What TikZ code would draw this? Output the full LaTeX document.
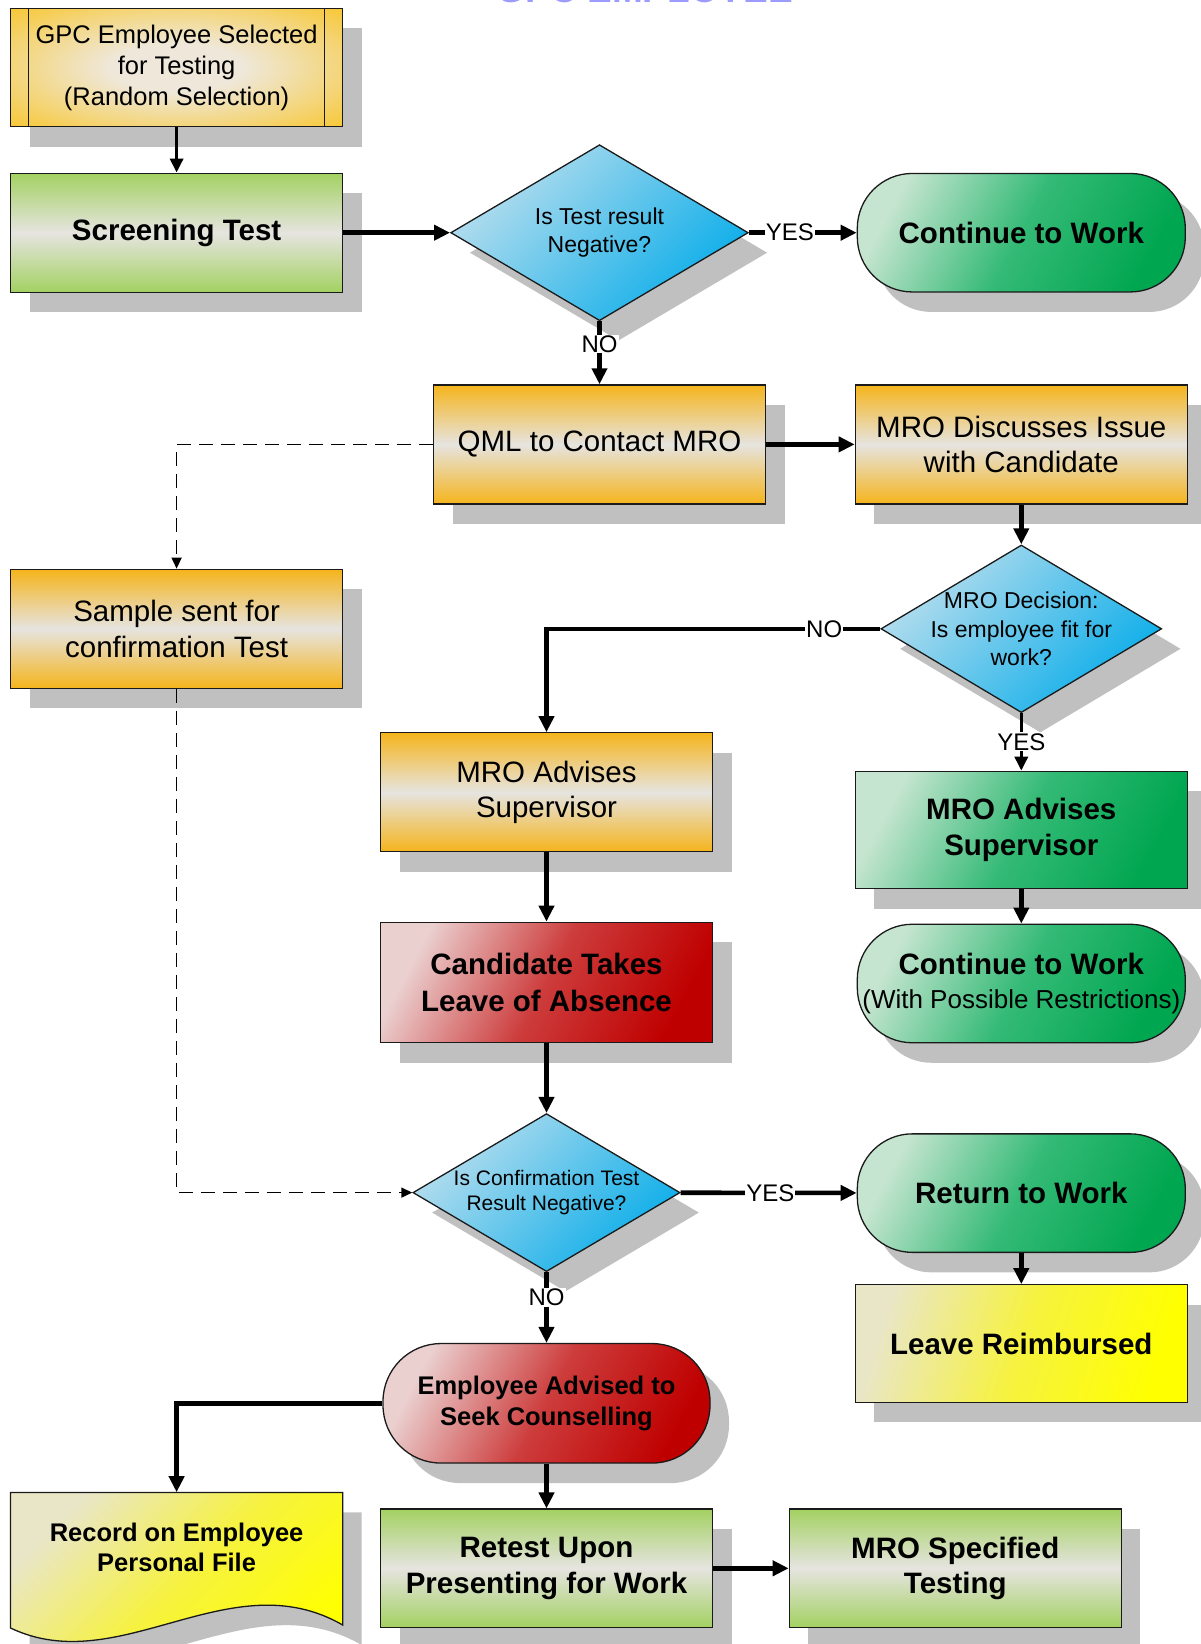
\documentclass[tikz,border=0pt]{standalone}
\usepackage{fontspec}
\setmainfont{Liberation Sans}
\usetikzlibrary{shapes.geometric,arrows.meta,shadows}

\definecolor{orng}{HTML}{F5B41C}
\definecolor{midgray}{HTML}{E6E4E0}
\definecolor{lgreen}{HTML}{A3D162}
\definecolor{gold}{HTML}{F9C218}
\definecolor{goldc}{HTML}{EFE8DA}
\definecolor{bluel}{HTML}{B8DEEE}
\definecolor{blued}{HTML}{0AADE9}
\definecolor{greenl}{HTML}{C6E5D0}
\definecolor{greenm}{HTML}{34BA76}
\definecolor{greend}{HTML}{00A650}
\definecolor{redl}{HTML}{EBD0D0}
\definecolor{redm}{HTML}{CD3C3C}
\definecolor{redd}{HTML}{BF0000}
\definecolor{yell}{HTML}{E9E6C8}
\definecolor{yelm}{HTML}{F6F240}
\definecolor{yeld}{HTML}{FFFF00}
\definecolor{shadegray}{HTML}{C0C0C0}
\definecolor{edge}{HTML}{1A1A1A}
\definecolor{titleblue}{HTML}{9C9CFF}

\pgfdeclareradialshading{gpcglow}{\pgfpoint{0bp}{0bp}}{color(0bp)=(goldc); color(10bp)=(goldc); color(40bp)=(gold); color(50bp)=(gold)}

\newcommand{\fsz}[2]{\fontsize{#1}{#2}\selectfont}

\tikzset{
  shd/.style={drop shadow={shadow xshift=19pt, shadow yshift=-20pt, fill=shadegray, opacity=1}},
  base/.style={draw=edge, line width=1.3pt, inner sep=0pt, align=center, text=black, shd},
  box/.style={base, rectangle, minimum width=332pt, minimum height=119pt},
  orangebox/.style={box, top color=orng, bottom color=orng, middle color=midgray, font=\fsz{29.5}{35.5}},
  limebox/.style={box, top color=lgreen, bottom color=lgreen, middle color=midgray, font=\fsz{29.5}{35.5}\bfseries},
  greenfill/.style={top color=greenl, bottom color=greend, middle color=greenm, shading angle=62},
  redfill/.style={top color=redl, bottom color=redd, middle color=redm, shading angle=62},
  yellowfill/.style={top color=yell, bottom color=yeld, middle color=yelm, shading angle=72},
  term/.style={base, rectangle, rounded corners=55pt, minimum width=328pt, minimum height=118.5pt},
  decision/.style={base, diamond, top color=bluel, bottom color=blued, shading angle=45},
  dtext/.style={align=center, inner sep=0pt, text=black},
  lbl/.style={fill=white, inner sep=1pt, font=\fsz{24}{26}, text=black},
  flow/.style={line width=4.6pt, draw=black, -{Triangle[length=16pt,width=15pt]}},
  flowthin/.style={line width=3.4pt, draw=black, -{Triangle[length=14pt,width=13pt]}},
  dashline/.style={line width=1.6pt, draw=black, dash pattern=on 14pt off 8pt, -{Triangle[length=11pt,width=10pt]}}
}

\begin{document}
\begin{tikzpicture}[x=1pt, y=-1pt]
\useasboundingbox (0,0) rectangle (1200,1644);

% heading, mostly above the sheet edge
\node[font=\fsz{37}{40}\bfseries, text=titleblue, anchor=base, inner sep=0pt] (title) at (645,2.5) {GPC EMPLOYEE};

% ---- left column ----
\node[box, shading=gpcglow, minimum height=118.4pt, font=\fsz{25.5}{31}] (gpc) at (176.6,67.6)
  {GPC Employee Selected\\for Testing\\(Random Selection)};
\draw[edge, line width=1.3pt] ([xshift=18.8pt]gpc.north west) -- ([xshift=18.8pt]gpc.south west);
\draw[edge, line width=1.3pt] ([xshift=-18.8pt]gpc.north east) -- ([xshift=-18.8pt]gpc.south east);

\node[limebox] (scr) at (176.6,232.7) {Screening Test};
\node[orangebox] (sample) at (176.6,628.8) {Sample sent for\\confirmation Test};

% record document with wavy lower edge
\fill[shadegray, shift={(19,20)}] (10.5,1492.4) -- (342.7,1492.4) -- (342.7,1625)
  .. controls (230,1560) and (120,1680) .. (10.5,1628) -- cycle;
\path[draw=edge, line width=1.3pt, top color=yell, bottom color=yeld, middle color=yelm, shading angle=45]
  (10.5,1492.4) -- (342.7,1492.4) -- (342.7,1625)
  .. controls (230,1560) and (120,1680) .. (10.5,1628) -- cycle;
\node[inner sep=0pt, minimum width=332pt, minimum height=110pt, align=center, font=\fsz{25.5}{30.4}\bfseries] (rec) at (176.6,1547.4)
  {Record on Employee\\Personal File};

% ---- middle column ----
\node[decision, minimum width=297.6pt, minimum height=176pt,
  label={[dtext, font=\fsz{23}{28}]center:Is Test result\\Negative?}] (d1) at (599.5,232.7) {};
\node[orangebox] (qml) at (599.5,444.4) {QML to Contact MRO};
\node[orangebox, font=\fsz{29.5}{34.6}] (mroa) at (546.5,792.3) {MRO Advises\\Supervisor};
\node[box, redfill, minimum height=120.5pt, font=\fsz{29.5}{36.7}\bfseries] (cand) at (546.5,982.5)
  {Candidate Takes\\Leave of Absence};
\node[decision, minimum width=267.2pt, minimum height=158pt,
  label={[dtext, font=\fsz{21}{25}]center:Is Confirmation Test\\Result Negative?}] (d3) at (546.5,1192.6) {};
\node[term, redfill, minimum width=327pt, minimum height=119.5pt, rounded corners=58pt, font=\fsz{25.5}{30.4}\bfseries] (emp) at (546.5,1403.3)
  {Employee Advised to\\Seek Counselling};
\node[limebox, minimum height=118.4pt] (retest) at (546.5,1568.3) {Retest Upon\\Presenting for Work};

% ---- right column ----
\node[term, greenfill, font=\fsz{29.5}{35}\bfseries] (cont1) at (1021.3,232.7) {Continue to Work};
\node[orangebox] (mrod) at (1021.3,444.4) {MRO Discusses Issue\\with Candidate};
\node[decision, minimum width=280.8pt, minimum height=167.6pt,
  label={[dtext, font=\fsz{23}{28.3}]center:MRO Decision:\\Is employee fit for\\work?}] (d2) at (1021.3,628.8) {};
\node[box, greenfill, minimum height=117.4pt, font=\fsz{29.5}{36.7}\bfseries] (mrog) at (1021.3,830)
  {MRO Advises\\Supervisor};
\node[term, greenfill, font=\fsz{29.5}{33.5}] (cont2) at (1021.3,983.5)
  {\textbf{Continue to Work}\\{\fsz{26}{33.5}(With Possible Restrictions)}};
\node[term, greenfill, font=\fsz{29.5}{35}\bfseries] (ret) at (1021.3,1193.1) {Return to Work};
\node[box, yellowfill, minimum height=117.4pt, font=\fsz{29.5}{35}\bfseries] (leave) at (1021.3,1343.5) {Leave Reimbursed};
\node[limebox, minimum height=118.4pt] (mros) at (955.3,1568.3) {MRO Specified\\Testing};

% ---- connectors ----
\draw[flowthin] (gpc) -- (scr);
\draw[flow, line width=5.4pt] (scr) -- (d1);
\draw[flow] (d1) -- node[lbl, pos=.38] {YES} (cont1);
\draw[flow] (d1) -- node[lbl, pos=.36] {NO} (qml);
\draw[flow] (qml) -- (mrod);
\draw[dashline] (qml.west) -| (sample.north);
\draw[flow] (mrod) -- (d2);
\draw[flow] (d2.west) -| node[lbl, pos=.084] {NO} (mroa.north);
\draw[flowthin] (d2) -- node[lbl, pos=.5] {YES} (mrog);
\draw[flow] (mroa) -- (cand);
\draw[flow] (mrog) -- (cont2);
\draw[flow] (cand) -- (d3);
\draw[dashline] (sample.south) |- (d3.west);
\draw[flow] (d3) -- node[lbl, pos=.51] {YES} (ret);
\draw[flow] (ret) -- (leave);
\draw[flow] (d3) -- node[lbl, pos=.36] {NO} (emp);
\draw[flow] (emp.west) -| (rec.north);
\draw[flow] (emp) -- (retest);
\draw[flow] (retest) -- (mros);
\end{tikzpicture}
\end{document}
